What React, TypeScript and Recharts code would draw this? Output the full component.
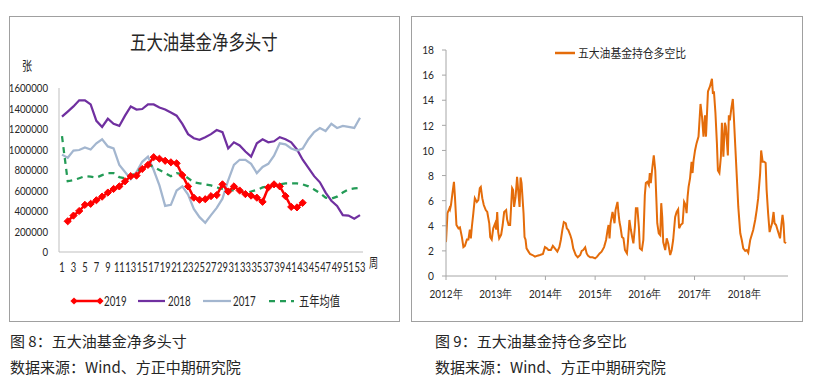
import { Line, LineChart, XAxis, YAxis } from 'recharts'

// ---- left chart: weekly net long positions (张) ----
const weekLabels = Array.from({ length: 53 }, (_, i) => String(i + 1))
const netTicks = [0, 200000, 400000, 600000, 800000, 1000000, 1200000, 1400000, 1600000]

// week 1 has no 2019 print
const net2019 = [
  null, 300000, 355000, 400000, 460000, 470000, 505000, 540000, 580000, 615000,
  640000, 690000, 740000, 745000, 810000, 850000, 925000, 910000, 890000, 875000,
  865000, 750000, 640000, 530000, 510000, 515000, 545000, 555000, 660000, 590000,
  640000, 600000, 565000, 550000, 530000, 490000, 630000, 660000, 640000, 545000,
  440000, 435000, 480000,
]
const net2018 = [
  1320000, 1370000, 1420000, 1480000, 1480000, 1440000, 1280000, 1220000, 1300000, 1250000,
  1230000, 1330000, 1420000, 1390000, 1395000, 1440000, 1440000, 1410000, 1390000, 1360000,
  1330000, 1250000, 1150000, 1110000, 1095000, 1120000, 1150000, 1190000, 1170000, 1010000,
  1070000, 1040000, 980000, 930000, 1060000, 1100000, 1070000, 1080000, 1120000, 1100000,
  1070000, 1000000, 900000, 820000, 740000, 680000, 580000, 500000, 450000, 360000,
  355000, 325000, 360000,
]
const net2017 = [
  950000, 920000, 990000, 995000, 1020000, 1000000, 1060000, 1100000, 1030000, 1010000,
  850000, 780000, 710000, 780000, 880000, 930000, 800000, 650000, 450000, 460000,
  600000, 640000, 560000, 420000, 340000, 285000, 360000, 430000, 520000, 700000,
  850000, 900000, 900000, 860000, 770000, 830000, 860000, 940000, 1060000, 1050000,
  1010000, 990000, 1010000, 1100000, 1170000, 1210000, 1180000, 1250000, 1210000, 1230000,
  1220000, 1210000, 1310000,
]
const net5yAvg = [
  1130000, 690000, 700000, 720000, 740000, 735000, 725000, 750000, 770000, 770000,
  730000, 720000, 740000, 780000, 820000, 855000, 830000, 800000, 770000, 740000,
  770000, 760000, 720000, 680000, 670000, 660000, 650000, 630000, 615000, 605000,
  600000, 590000, 575000, 590000, 605000, 630000, 640000, 650000, 660000, 670000,
  670000, 670000, 660000, 640000, 610000, 575000, 530000, 520000, 540000, 580000,
  610000, 620000, 625000,
]

// ---- right chart: long/short ratio, [fraction of year, value] ----
const ratioYears = [2012, 2013, 2014, 2015, 2016, 2017, 2018]
const ratio2012: [number, number][] = [
  [0.0, 2.7], [0.03, 5.0], [0.07, 5.4], [0.08, 5.3], [0.1, 5.65], [0.13, 6.6], [0.16, 7.5],
  [0.18, 6.3], [0.21, 4.06], [0.25, 3.8], [0.28, 3.87], [0.32, 3.1], [0.35, 2.3], [0.38, 2.4],
  [0.42, 2.9], [0.45, 2.9], [0.48, 3.7], [0.5, 3.0], [0.52, 3.9], [0.55, 5.0], [0.58, 6.2],
  [0.62, 5.9], [0.65, 6.05], [0.68, 7.0], [0.7, 7.1], [0.73, 6.2], [0.76, 5.65], [0.8, 5.25],
  [0.83, 5.1], [0.87, 4.2], [0.89, 3.1], [0.92, 2.9], [0.95, 3.8], [0.99, 4.2],
]
const ratio2013: [number, number][] = [
  [0.01, 3.7], [0.03, 5.1], [0.05, 3.5], [0.07, 3.0], [0.11, 3.3], [0.14, 4.06], [0.17, 5.1],
  [0.21, 5.25], [0.23, 4.5], [0.26, 4.06], [0.29, 4.06], [0.33, 7.0], [0.35, 6.85], [0.37, 5.5],
  [0.4, 6.3], [0.43, 7.9], [0.46, 6.45], [0.48, 5.5], [0.5, 7.85], [0.52, 7.4], [0.56, 5.0],
  [0.58, 3.1], [0.6, 2.9], [0.62, 2.2], [0.66, 1.94], [0.69, 1.75], [0.74, 1.67], [0.79, 1.54],
  [0.84, 1.62], [0.89, 1.67], [0.95, 1.75], [0.99, 2.3],
]
const ratio2014: [number, number][] = [
  [0.03, 2.2], [0.06, 2.07], [0.11, 2.07], [0.15, 2.4], [0.19, 2.2], [0.24, 1.94], [0.28, 2.3],
  [0.31, 2.87], [0.34, 3.66], [0.37, 4.3], [0.41, 4.2], [0.43, 3.8], [0.46, 3.66], [0.5, 3.26],
  [0.53, 2.87], [0.56, 2.2], [0.61, 1.67], [0.65, 1.49], [0.7, 1.67], [0.73, 2.0], [0.76, 2.07],
  [0.8, 2.28], [0.83, 1.8], [0.86, 1.6], [0.9, 1.49], [0.95, 1.49],
]
const ratio2015: [number, number][] = [
  [0.0, 1.4], [0.04, 1.54], [0.09, 1.8], [0.13, 1.94], [0.18, 2.3], [0.22, 2.87], [0.25, 3.66],
  [0.27, 4.06], [0.29, 3.0], [0.31, 4.2], [0.35, 5.1], [0.37, 4.7], [0.39, 4.2], [0.41, 5.25],
  [0.45, 5.9], [0.47, 5.0], [0.49, 4.3], [0.51, 3.9], [0.54, 3.1], [0.57, 3.0], [0.6, 2.07],
  [0.64, 1.8], [0.66, 2.7], [0.69, 4.46], [0.72, 3.66], [0.75, 3.0], [0.77, 2.6], [0.8, 3.9],
  [0.82, 5.4], [0.85, 5.4], [0.88, 3.9], [0.9, 2.2], [0.94, 2.07], [0.97, 2.87],
]
const ratio2016: [number, number][] = [
  [0.0, 6.45], [0.02, 7.4], [0.05, 7.5], [0.08, 7.25], [0.1, 8.2], [0.12, 7.4], [0.15, 8.6],
  [0.18, 9.6], [0.21, 8.4], [0.23, 6.3], [0.25, 4.2], [0.28, 3.4], [0.31, 3.26], [0.33, 5.8],
  [0.35, 4.7], [0.37, 2.7], [0.41, 2.07], [0.44, 3.0], [0.47, 2.6], [0.51, 1.67], [0.54, 2.07],
  [0.57, 2.87], [0.61, 4.7], [0.64, 5.1], [0.67, 5.3], [0.69, 3.8], [0.72, 4.06], [0.76, 4.2],
  [0.79, 5.9], [0.82, 5.65], [0.84, 5.0], [0.86, 6.3], [0.88, 7.1], [0.91, 7.8], [0.94, 9.1],
  [0.96, 8.2], [0.98, 9.2],
]
const ratio2017: [number, number][] = [
  [0.01, 10.0], [0.04, 10.56], [0.08, 11.1], [0.12, 13.7], [0.15, 12.7], [0.18, 11.1],
  [0.21, 12.8], [0.23, 11.1], [0.27, 14.7], [0.31, 15.1], [0.35, 15.7], [0.37, 14.5],
  [0.39, 14.7], [0.42, 13.0], [0.45, 10.56], [0.47, 8.4], [0.5, 8.2], [0.53, 9.5], [0.55, 12.2],
  [0.58, 9.5], [0.61, 12.2], [0.63, 11.9], [0.67, 9.6], [0.69, 12.8], [0.71, 12.4],
  [0.74, 13.35], [0.77, 14.1], [0.79, 12.7], [0.82, 10.3], [0.85, 7.9], [0.88, 5.5],
  [0.92, 3.4], [0.95, 2.87], [0.98, 2.2],
]
const ratio2018: [number, number][] = [
  [0.02, 2.0], [0.05, 2.07], [0.08, 1.86], [0.12, 2.87], [0.15, 3.26], [0.18, 3.66], [0.22, 4.46],
  [0.25, 5.25], [0.28, 6.2], [0.32, 8.2], [0.34, 10.0], [0.37, 9.1], [0.4, 9.1], [0.43, 9.0],
  [0.45, 6.85], [0.48, 5.0], [0.51, 3.5], [0.53, 3.8], [0.56, 4.2], [0.59, 5.1], [0.61, 4.2],
  [0.64, 4.06], [0.67, 3.66], [0.69, 3.4], [0.72, 3.0], [0.75, 4.2], [0.77, 4.86], [0.79, 4.2],
  [0.81, 2.7], [0.84, 2.6],
]
const ratioTicks = [0, 2, 4, 6, 8, 10, 12, 14, 16, 18]

const netRows = weekLabels.map((week, i) => ({
  week,
  y2019: net2019[i] ?? null,
  y2018: net2018[i] ?? null,
  y2017: net2017[i] ?? null,
  avg: net5yAvg[i] ?? null,
}))

const ratioRows = [ratio2012, ratio2013, ratio2014, ratio2015, ratio2016, ratio2017, ratio2018].flatMap(
  (pts, k) => pts.map(([f, v]) => ({ t: ratioYears[k] + f, v })),
)

const CJK = '"Noto Sans CJK SC", sans-serif'
const NUM = 'Lato, "Liberation Sans", sans-serif'
const INK = '#262626'

function Txt({ left, cy, size, sx = 1, font = CJK, children }: any) {
  return (
    <div
      style={{
        position: 'absolute',
        left,
        top: cy - size / 2,
        fontSize: size,
        lineHeight: `${size}px`,
        fontFamily: font,
        color: INK,
        whiteSpace: 'pre',
        transform: `scaleX(${sx})`,
        transformOrigin: 'left center',
      }}
    >
      {children}
    </div>
  )
}

// axis labels in the source are horizontally squeezed
function squeezedTick(size: number, sx: number, anchor: string, dy: string, fmt = (v: any) => String(v)) {
  return (p: any) => (
    <text
      transform={`translate(${p.x},${p.y}) scale(${sx},1)`}
      textAnchor={anchor}
      dy={dy}
      fontSize={size}
      fontFamily={NUM}
      fill={INK}
    >
      {fmt(p.payload.value)}
    </text>
  )
}

function Diamond(props: any) {
  const { cx, cy, index } = props
  if (cx == null || cy == null) return <g key={`dm-${index}`} />
  const r = 3.6
  return (
    <path
      key={`dm-${index}`}
      d={`M${cx},${cy - r}L${cx + r},${cy}L${cx},${cy + r}L${cx - r},${cy}Z`}
      fill="#ff0000"
      stroke="#ff0000"
    />
  )
}

const panel = (left: number, width: number): React.CSSProperties => ({
  position: 'absolute',
  left,
  top: 16,
  width,
  height: 306,
  boxSizing: 'border-box',
  border: '1px solid #a0a0a0',
  background: '#fff',
})

export default function App() {
  return (
    <div style={{ position: 'absolute', left: 0, top: 0, width: 814, height: 387, background: '#fff' }}>
      {/* left: 五大油基金净多头寸 */}
      <div style={panel(9, 391)}>
        <LineChart width={389} height={304} data={netRows} margin={{ top: 71, right: 36, bottom: 39, left: 0 }}>
          <XAxis
            dataKey="week"
            interval={1}
            tickLine={false}
            tickSize={0}
            tickMargin={11}
            axisLine={{ stroke: '#bfbfbf' }}
            padding={{ left: 3, right: 3 }}
            height={30}
            tick={squeezedTick(13, 0.72, 'middle', '0.71em')}
          />
          <YAxis
            width={49}
            domain={[0, 1600000]}
            ticks={netTicks}
            interval={0}
            tickLine={false}
            tickSize={0}
            tickMargin={11}
            axisLine={{ stroke: '#bfbfbf' }}
            tick={squeezedTick(11.5, 0.84, 'end', '0.35em')}
          />
          <Line dataKey="y2018" stroke="#7030a0" strokeWidth={2.25} dot={false} isAnimationActive={false} />
          <Line dataKey="y2017" stroke="#a3b6cf" strokeWidth={2.25} dot={false} isAnimationActive={false} />
          <Line
            dataKey="avg"
            stroke="#239b56"
            strokeWidth={2.25}
            strokeDasharray="6 5"
            dot={false}
            isAnimationActive={false}
          />
          <Line dataKey="y2019" stroke="#ff0000" strokeWidth={2.5} dot={Diamond} isAnimationActive={false} />
        </LineChart>
      </div>
      <Txt left={130} cy={42} size={20} sx={0.82}>五大油基金净多头寸</Txt>
      <Txt left={22} cy={64} size={13} sx={0.78}>张</Txt>
      <Txt left={369} cy={261} size={13} sx={0.7}>周</Txt>

      {/* left legend */}
      <svg style={{ position: 'absolute', left: 0, top: 290 }} width={400} height={22}>
        <line x1={72} y1={11} x2={102} y2={11} stroke="#ff0000" strokeWidth={2.5} />
        <path d="M74,7.4L77.6,11L74,14.6L70.4,11Z" fill="#ff0000" />
        <path d="M100,7.4L103.6,11L100,14.6L96.4,11Z" fill="#ff0000" />
        <line x1={138} y1={11} x2={165} y2={11} stroke="#7030a0" strokeWidth={2.25} />
        <line x1={203} y1={11} x2={231} y2={11} stroke="#a3b6cf" strokeWidth={2.25} />
        <line x1={269} y1={11} x2={294} y2={11} stroke="#239b56" strokeWidth={2.25} strokeDasharray="6 5" />
      </svg>
      <Txt left={104} cy={301} size={13} sx={0.75} font={NUM}>2019</Txt>
      <Txt left={168} cy={301} size={13} sx={0.75} font={NUM}>2018</Txt>
      <Txt left={233} cy={301} size={13} sx={0.75} font={NUM}>2017</Txt>
      <Txt left={299} cy={300} size={14} sx={0.73}>五年均值</Txt>

      {/* right: 五大油基金持仓多空比 */}
      <div style={panel(411, 392)}>
        <LineChart width={390} height={304} data={ratioRows} margin={{ top: 33, right: 14, bottom: 15, left: 0 }}>
          <XAxis
            dataKey="t"
            type="number"
            domain={[2012, 2018.88]}
            ticks={ratioYears}
            interval={0}
            allowDataOverflow
            tickSize={4}
            tickMargin={9}
            tickLine={{ stroke: '#a6a6a6' }}
            axisLine={{ stroke: '#a6a6a6' }}
            height={30}
            tick={squeezedTick(12, 0.83, 'middle', '0.71em', (v) => `${v}年`)}
          />
          <YAxis
            width={34}
            domain={[0, 18]}
            ticks={ratioTicks}
            interval={0}
            tickSize={4}
            tickMargin={8}
            tickLine={{ stroke: '#a6a6a6' }}
            axisLine={{ stroke: '#a6a6a6' }}
            tick={squeezedTick(12, 0.85, 'end', '0.35em')}
          />
          <Line dataKey="v" stroke="#e46c0a" strokeWidth={2} dot={false} isAnimationActive={false} />
        </LineChart>
      </div>
      <svg style={{ position: 'absolute', left: 550, top: 48 }} width={30} height={10}>
        <line x1={5} y1={5} x2={25} y2={5} stroke="#e46c0a" strokeWidth={2.5} />
      </svg>
      <Txt left={578} cy={53} size={12} sx={0.9}>五大油基金持仓多空比</Txt>

      {/* captions */}
      <Txt left={10} cy={340} size={15}>图 8：五大油基金净多头寸</Txt>
      <Txt left={10} cy={366} size={15}>数据来源：Wind、方正中期研究院</Txt>
      <Txt left={435} cy={340} size={15}>图 9：五大油基金持仓多空比</Txt>
      <Txt left={435} cy={366} size={15}>数据来源：Wind、方正中期研究院</Txt>
    </div>
  )
}
